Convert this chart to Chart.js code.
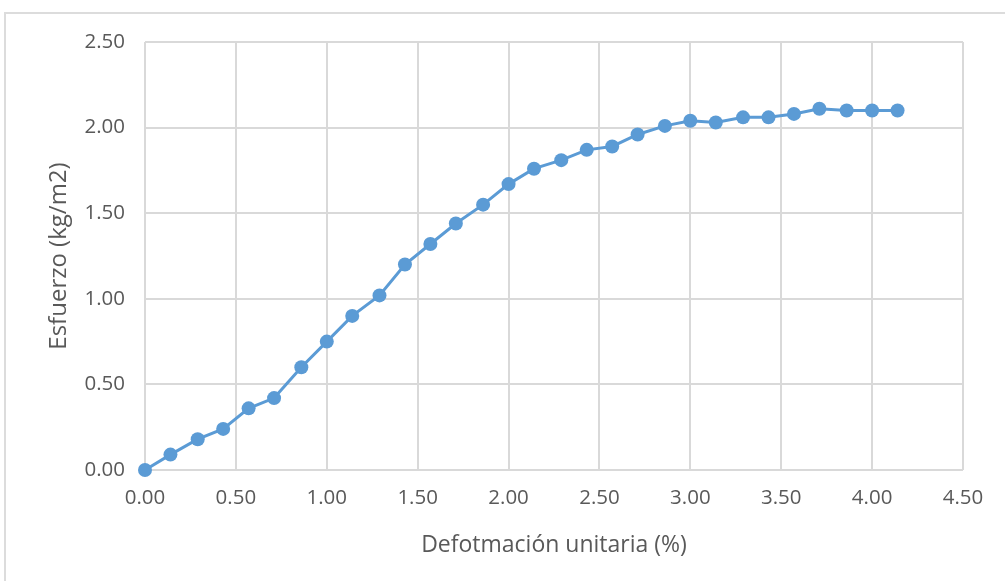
<!DOCTYPE html>
<html>
<head>
<meta charset="utf-8">
<script src="https://cdn.jsdelivr.net/npm/chart.js@4/dist/chart.umd.min.js"></script>
<style>
  html, body { margin: 0; padding: 0; background: #ffffff; overflow: hidden; }
  #wrap { position: relative; width: 1005px; height: 581px; }
  #frame { position: absolute; left: 4px; top: 12px; right: -10px; bottom: -10px;
           border-top: 2px solid #dcdcdc; border-left: 2px solid #dcdcdc; }
  canvas { position: absolute; left: 0; top: 0; }
</style>
</head>
<body>
<div id="wrap">
  <div id="frame"></div>
  <canvas id="c" width="1005" height="581"></canvas>
</div>
<script>
// Unit strain (%) and stress readings
const strain = [0.00, 0.14, 0.29, 0.43, 0.57, 0.71, 0.86, 1.00, 1.14, 1.29,
                1.43, 1.57, 1.71, 1.86, 2.00, 2.14, 2.29, 2.43, 2.57, 2.71,
                2.86, 3.00, 3.14, 3.29, 3.43, 3.57, 3.71, 3.86, 4.00, 4.14];
const stress = [0.00, 0.09, 0.18, 0.24, 0.36, 0.42, 0.60, 0.75, 0.90, 1.02,
                1.20, 1.32, 1.44, 1.55, 1.67, 1.76, 1.81, 1.87, 1.89, 1.96,
                2.01, 2.04, 2.03, 2.06, 2.06, 2.08, 2.11, 2.10, 2.10, 2.10];
const xTitle = 'Defotmación unitaria (%)';
const yTitle = 'Esfuerzo (kg/m2)';

const points = strain.map((x, i) => ({ x: x, y: stress[i] }));
const textColor = '#595959';
const gridColor = '#d9d9d9';
const fontFamily = "'Open Sans', 'Liberation Sans', sans-serif";

new Chart(document.getElementById('c'), {
  type: 'scatter',
  data: {
    datasets: [{
      data: points,
      showLine: true,
      clip: false,
      borderColor: '#5b9bd5',
      backgroundColor: '#5b9bd5',
      borderWidth: 3,
      pointRadius: 7,
      pointHoverRadius: 7,
      pointBorderWidth: 0,
      tension: 0
    }]
  },
  options: {
    responsive: false,
    animation: false,
    layout: { padding: { left: 40, top: 42, right: 42, bottom: 20 } },
    plugins: { legend: { display: false }, tooltip: { enabled: false } },
    scales: {
      x: {
        type: 'linear',
        min: 0, max: 4.5,
        border: { display: false },
        grid: { color: gridColor, lineWidth: 2, drawTicks: false },
        ticks: {
          stepSize: 0.5,
          padding: 16,
          color: textColor,
          font: { family: fontFamily, size: 20.5 },
          maxRotation: 0,
          callback: v => v.toFixed(2)
        },
        title: {
          display: true, text: xTitle, color: textColor,
          font: { family: fontFamily, size: 23 },
          padding: { top: 4, bottom: 2 }
        },
        afterFit: s => { s.height = 91; }
      },
      y: {
        min: 0, max: 2.5,
        border: { display: false },
        grid: { color: gridColor, lineWidth: 2, drawTicks: false },
        ticks: {
          stepSize: 0.5,
          padding: 20,
          color: textColor,
          font: { family: fontFamily, size: 20.5 },
          callback: v => v.toFixed(2)
        },
        title: {
          display: true, text: yTitle, color: textColor,
          font: { family: fontFamily, size: 24 },
          padding: { top: 5, bottom: 4 }
        },
        afterFit: s => { s.width = 105; }
      }
    }
  }
});
</script>
</body>
</html>
